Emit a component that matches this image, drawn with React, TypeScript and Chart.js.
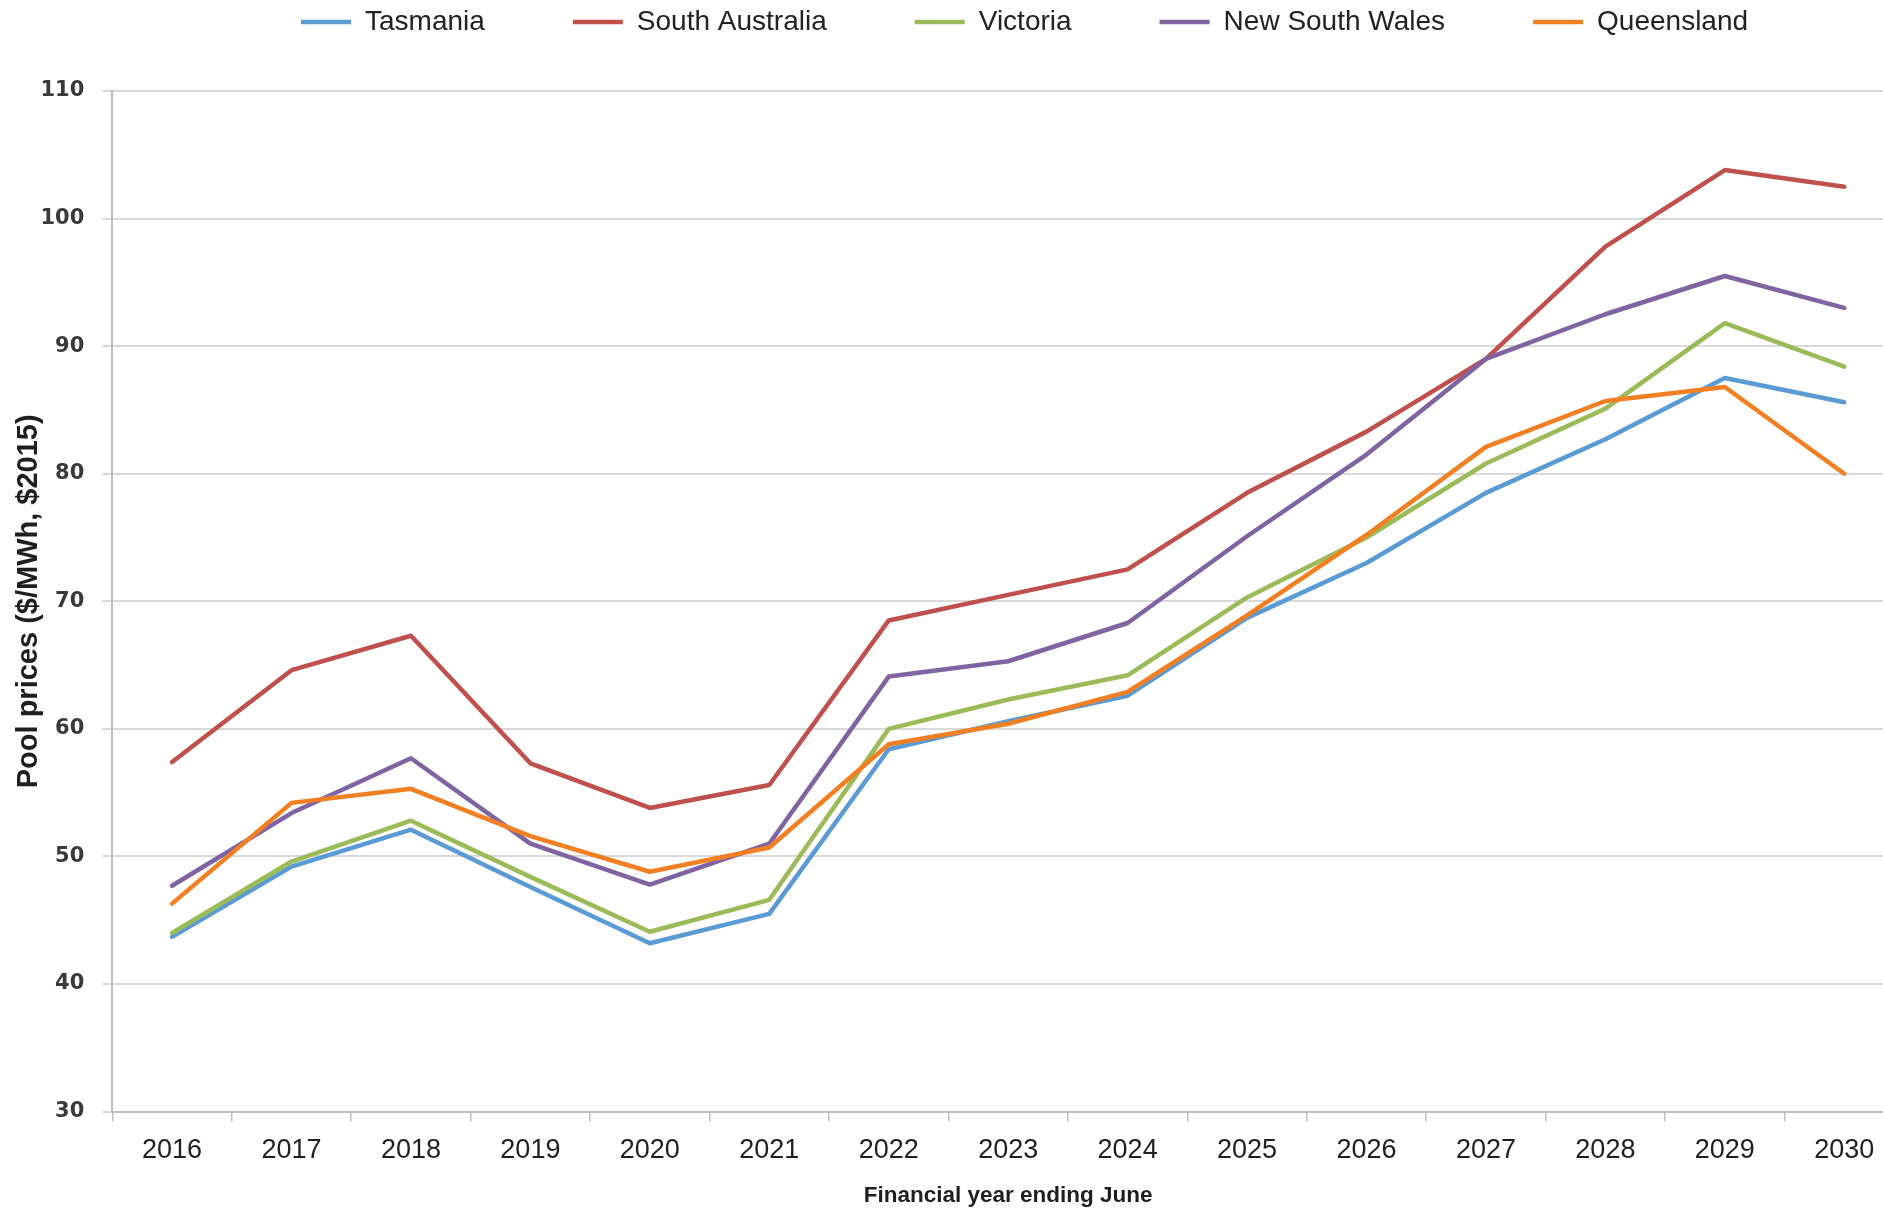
import { useEffect, useRef } from 'react';
import { Chart, registerables } from 'chart.js';

Chart.register(...registerables);

const years = ['2016', '2017', '2018', '2019', '2020', '2021', '2022', '2023', '2024', '2025', '2026', '2027', '2028', '2029', '2030'];

const tasmania = [43.7, 49.2, 52.1, 47.6, 43.2, 45.5, 58.4, 60.6, 62.6, 68.7, 73.0, 78.5, 82.7, 87.5, 85.6];
const southAustralia = [57.4, 64.6, 67.3, 57.3, 53.8, 55.6, 68.5, 70.5, 72.5, 78.5, 83.3, 89.0, 97.8, 103.8, 102.5];
const victoria = [44.0, 49.6, 52.8, 48.4, 44.1, 46.6, 60.0, 62.3, 64.2, 70.3, 75.0, 80.8, 85.1, 91.8, 88.4];
const newSouthWales = [47.7, 53.4, 57.7, 51.0, 47.8, 51.0, 64.1, 65.3, 68.3, 75.1, 81.5, 89.0, 92.5, 95.5, 93.0];
const queensland = [46.3, 54.2, 55.3, 51.6, 48.8, 50.7, 58.8, 60.4, 62.9, 68.9, 75.2, 82.1, 85.7, 86.8, 80.0];

const seriesNames = ['Tasmania', 'South Australia', 'Victoria', 'New South Wales', 'Queensland'];
const seriesValues = [tasmania, southAustralia, victoria, newSouthWales, queensland];
const seriesColors = ['#5B9BD5', '#C0504D', '#9BBB59', '#8064A2', '#F28023'];

const yTicksMin = 30;
const yTicksMax = 110;
const yTicksStep = 10;

const LEGEND_HEIGHT = 91;
const LEGEND_START_X = 301;
const LEGEND_TEXT_Y = 22;

const legendFix = {
  id: 'legendFix',
  beforeLayout(chart: any) {
    const lg = chart.legend;
    if (lg && !lg.__wrapped) {
      const orig = lg.fit.bind(lg);
      lg.fit = function () {
        orig();
        this.height = LEGEND_HEIGHT;
      };
      lg.__wrapped = true;
    }
  },
  afterLayout(chart: any) {
    const lg = chart.legend;
    if (!lg || !lg.lineWidths) return;
    const pad = lg.options.labels.padding;
    const fontSize = lg.options.labels.font.size;
    const cursorX = (lg.left + pad + lg.right - lg.lineWidths[0]) / 2;
    const dx = LEGEND_START_X - cursorX;
    const dy = LEGEND_TEXT_Y - (lg.top + pad + fontSize / 2);
    lg.left += dx;
    lg.right += dx;
    lg.top += dy;
  },
};

export default function App() {
  const canvasRef = useRef<HTMLCanvasElement | null>(null);

  useEffect(() => {
    const canvas = canvasRef.current;
    if (!canvas) return;
    const chart = new Chart(canvas, {
      type: 'line',
      data: {
        labels: years,
        datasets: seriesNames.map((name, i) => ({
          label: name,
          data: seriesValues[i],
          borderColor: seriesColors[i],
          backgroundColor: seriesColors[i],
          borderWidth: 4.5,
          pointRadius: 0,
          pointHoverRadius: 0,
          pointBorderWidth: 4.5,
          tension: 0,
          fill: false,
          borderJoinStyle: 'round' as const,
          borderCapStyle: 'round' as const,
          pointStyle: 'line' as const,
          order: seriesNames.length - i,
        })),
      },
      options: {
        responsive: false,
        animation: false,
        devicePixelRatio: 1,
        layout: { padding: { left: 0.5, right: 0, top: 0, bottom: 1 } },
        plugins: {
          tooltip: { enabled: false },
          legend: {
            position: 'top',
            labels: {
              usePointStyle: true,
              pointStyleWidth: 50,
              padding: 88,
              color: '#222222',
              font: { family: 'Liberation Sans', size: 28 },
              sort: (a: any, b: any) => a.datasetIndex - b.datasetIndex,
            },
          },
        },
        scales: {
          x: {
            offset: true,
            grid: {
              offset: true,
              drawOnChartArea: false,
              drawTicks: true,
              tickLength: 10,
              color: '#bfbfbf',
              lineWidth: 1.5,
            },
            border: { display: true, color: '#bfbfbf', width: 2 },
            ticks: {
              font: { family: 'Liberation Sans', size: 27 },
              color: '#1f1f1f',
              padding: 13,
              maxRotation: 0,
              autoSkip: false,
            },
            title: {
              display: true,
              text: 'Financial year ending June',
              font: { family: 'Liberation Sans', size: 22.5, weight: 'bold' },
              color: '#1f1f1f',
              padding: { top: 2, bottom: 0 },
            },
          },
          y: {
            min: yTicksMin,
            max: yTicksMax,
            ticks: {
              stepSize: yTicksStep,
              font: { family: 'DejaVu Sans', size: 21, weight: 'bold' },
              color: '#3a3a3a',
              padding: 18,
            },
            grid: {
              color: '#d9d9d9',
              lineWidth: 2,
              tickLength: 10,
              drawTicks: true,
            },
            border: { display: true, color: '#bfbfbf', width: 2 },
            title: {
              display: true,
              text: 'Pool prices ($/MWh, $2015)',
              font: { family: 'Liberation Sans', size: 29, weight: 'bold', lineHeight: 1 },
              color: '#1f1f1f',
              padding: { top: 14, bottom: -21 },
            },
          },
        },
      },
      plugins: [legendFix],
    });
    return () => chart.destroy();
  }, []);

  return (
    <div
      style={{
        position: 'fixed',
        left: 0,
        top: 0,
        width: 1883,
        height: 1210,
        overflow: 'hidden',
        background: '#ffffff',
      }}
    >
      <canvas ref={canvasRef} width={1904} height={1210} style={{ display: 'block' }} />
    </div>
  );
}
